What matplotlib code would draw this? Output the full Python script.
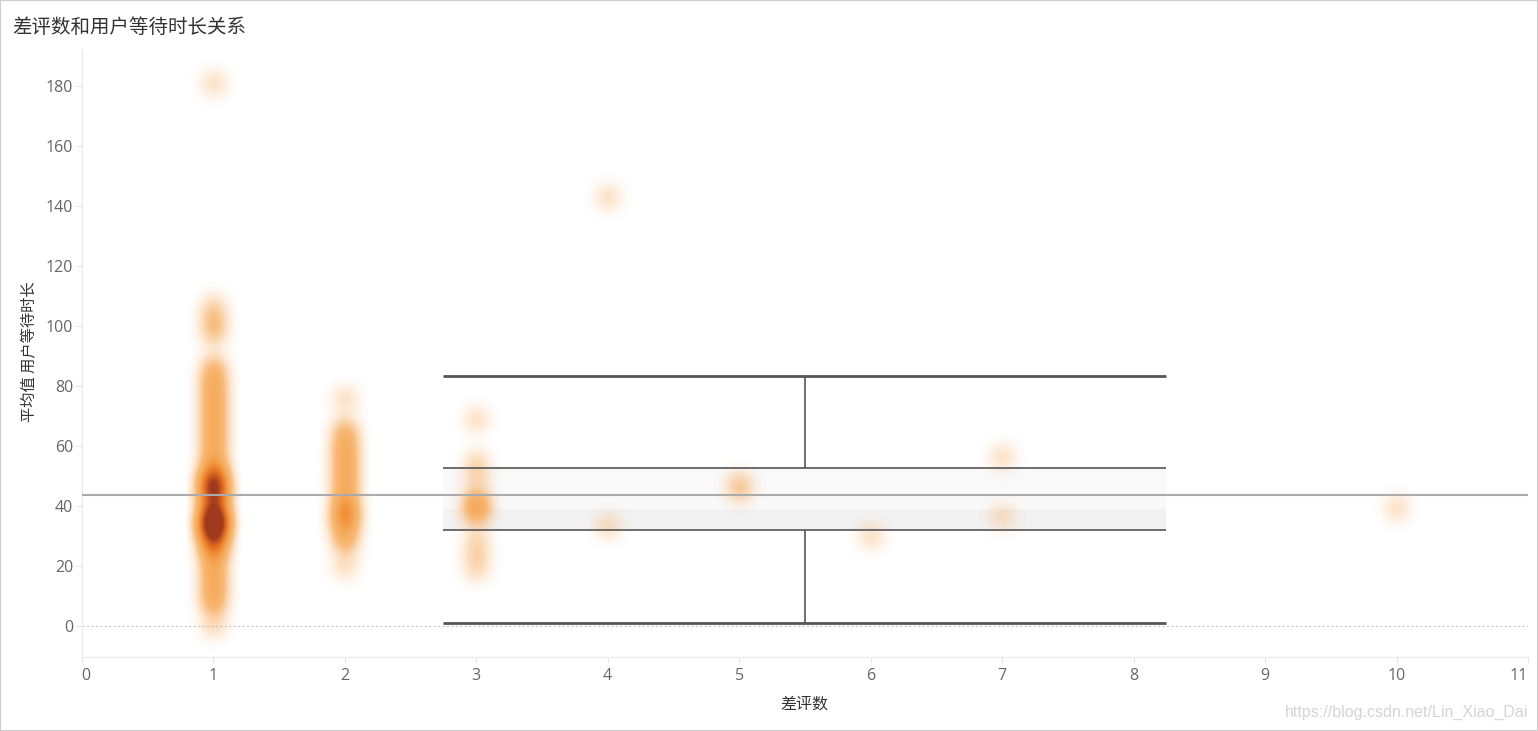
import numpy as np
import matplotlib
matplotlib.use('Agg')
import matplotlib.pyplot as plt
from matplotlib.colors import LinearSegmentedColormap
from matplotlib.patches import Rectangle

plt.rcParams['font.family'] = ['Open Sans', 'Noto Sans CJK SC', 'DejaVu Sans']

# 差评数 -> 用户等待时长 (one value per user)
wait_1 = [0, 6, 8, 10, 12, 14, 16, 18, 20, 22, 24, 25, 26, 27, 28, 29, 30, 30, 31, 31,
          32, 32, 33, 33, 34, 34, 34, 35, 35, 35, 35, 36, 36, 36, 37, 37, 38, 38, 39, 40,
          41, 42, 43, 44, 44, 45, 45, 46, 46, 47, 47, 48, 48, 49, 49, 50, 51, 52, 53, 55,
          57, 59, 61, 63, 65, 67, 69, 71, 73, 75, 77, 79, 81, 83, 85, 88, 97, 100, 103,
          107, 181]
wait_2 = [20, 27, 29, 31, 33, 35, 36, 37, 38, 39, 40, 42, 44, 46, 48, 50, 52, 54, 56,
          58, 60, 62, 64, 67, 76]
wait_3 = [19, 24, 29, 37, 39, 40, 41, 43, 50, 55, 69]
wait_4 = [33.5, 143]
wait_5 = [45, 48]
wait_6 = [30]
wait_7 = [36.5, 56.5]
wait_10 = [39.5]

groups = {1: wait_1, 2: wait_2, 3: wait_3, 4: wait_4, 5: wait_5, 6: wait_6, 7: wait_7, 10: wait_10}

# box plot summary (drawn over 差评数 range 2.75 .. 8.25)
box_left, box_right = 2.75, 8.25
whisker_low, q1, median, q3, whisker_high = 1.0, 32.0, 39.0, 52.7, 83.3
mean_wait = 43.7

xticks = list(range(0, 12))
yticks = list(range(0, 181, 20))
xmin, xmax = 0, 11
ymin, ymax = -10, 192

fig = plt.figure(figsize=(15.38, 7.31), dpi=100)
ax = fig.add_axes([0.0531, 0.1019, 0.9404, 0.8297])
ax.set_xlim(xmin, xmax)
ax.set_ylim(ymin, ymax)

# density marks: gaussian kernel in pixel space
nx, ny = 1446, 606
px_x = nx / (xmax - xmin)
px_y = ny / (ymax - ymin)
gx = np.linspace(xmin, xmax, nx)
gy = np.linspace(ymin, ymax, ny)
GX, GY = np.meshgrid(gx, gy)
sigma, cut = 10.0, 28.0
dens = np.zeros_like(GX)
for xv, ys in groups.items():
    for yv in ys:
        r2 = ((GX - xv) * px_x) ** 2 + ((GY - yv) * px_y) ** 2
        k = np.exp(-r2 / (2 * sigma ** 2))
        k[r2 > cut ** 2] = 0
        dens += k

cmap = LinearSegmentedColormap.from_list('dens', [
    (0.0, (0.98, 0.74, 0.48, 0.0)),
    (0.03, (0.98, 0.72, 0.45, 0.16)),
    (0.083, (0.97, 0.67, 0.36, 0.36)),
    (0.2, (0.97, 0.68, 0.37, 0.85)),
    (0.35, (0.96, 0.66, 0.34, 1.0)),
    (0.5, (0.95, 0.56, 0.22, 1.0)),
    (0.7, (0.88, 0.42, 0.13, 1.0)),
    (1.0, (0.63, 0.23, 0.12, 1.0)),
])
ax.imshow(dens, extent=(xmin, xmax, ymin, ymax), origin='lower', aspect='auto',
          cmap=cmap, vmin=0, vmax=13, interpolation='bilinear', zorder=2)

# box plot
ax.fill_between([box_left, box_right], median, q3, color='#f9f9f9', lw=0, zorder=1)
ax.fill_between([box_left, box_right], q1, median, color='#f2f2f2', lw=0, zorder=1)
ax.hlines([whisker_low, whisker_high], box_left, box_right, color='#555555', lw=2, zorder=3)
ax.hlines([q1, q3], box_left, box_right, color='#555555', lw=1.2, zorder=3)
mid = (box_left + box_right) / 2
ax.vlines(mid, q3, whisker_high, color='#555555', lw=1.2, zorder=3)
ax.vlines(mid, whisker_low, q1, color='#555555', lw=1.2, zorder=3)

# average reference line and zero line
ax.axhline(mean_wait, color='#ababab', lw=1.5, zorder=4)
ax.axhline(0, color='#c8c8c8', lw=0.8, ls=(0, (2, 2)), zorder=0.5)

ax.set_xticks(xticks)
ax.set_yticks(yticks)
ax.tick_params(axis='both', colors='#e6e6e6', labelcolor='#666666', labelsize=11.5, length=4)
ax.tick_params(axis='x', pad=4)
ax.tick_params(axis='y', pad=2)
for s in ['top', 'right']:
    ax.spines[s].set_visible(False)
for s in ['left', 'bottom']:
    ax.spines[s].set_color('#ebebeb')
xl = ax.get_xticklabels()
xl[0].set_horizontalalignment('left')
xl[-1].set_horizontalalignment('right')

fig.text(30 / 1538, 1 - 352 / 731, '平均值 用户等待时长', rotation=90, ha='center', va='center',
         fontsize=11, color='#333333', family=['Noto Sans CJK SC', 'DejaVu Sans'])
fig.text(804 / 1538, 1 - 704 / 731, '差评数', ha='center', va='center',
         fontsize=11.5, color='#333333', family=['Noto Sans CJK SC', 'DejaVu Sans'])
fig.text(12 / 1538, 1 - 27 / 731, '差评数和用户等待时长关系', ha='left', va='center',
         fontsize=14, color='#333333', family=['Noto Sans CJK SC', 'DejaVu Sans'])
fig.text(1528 / 1538, 1 - 712 / 731, 'https://blog.csdn.net/Lin_Xiao_Dai', ha='right', va='center',
         fontsize=11.5, color='#d4d4d4', family='Liberation Sans')

fig.patches.append(Rectangle((0, 0), 1, 1, transform=fig.transFigure, fill=False,
                             ec='#cccccc', lw=1.5))

fig.savefig('out.png', dpi=100)
